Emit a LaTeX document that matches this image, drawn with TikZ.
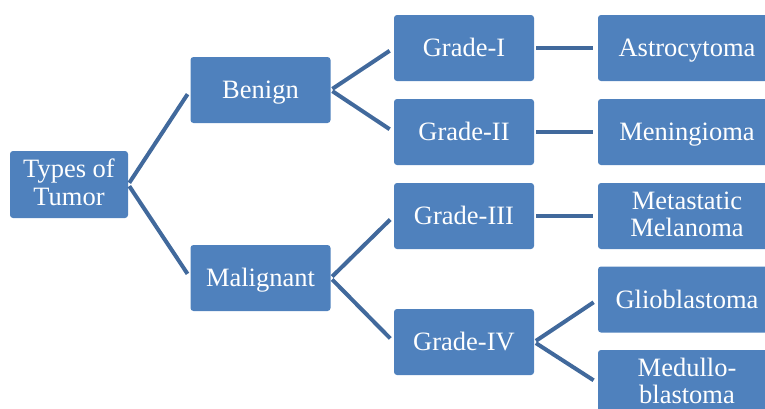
\documentclass[tikz,border=0pt]{standalone}
\usepackage{fontspec}
\setmainfont{Liberation Serif}
\definecolor{boxblue}{HTML}{4F81BD}
\definecolor{lineblue}{HTML}{41699C}
\begin{document}
\begin{tikzpicture}[x=1pt,y=-1pt,
  tbox/.style={draw=none,fill=boxblue,rounded corners=3pt,text=white,
    font=\fontsize{26.5}{27.5}\selectfont,align=center,inner sep=0pt,
    minimum width=140pt,minimum height=66pt,text height=20pt,text depth=2.4pt},
  twoline/.style={text height=47.5pt,text depth=6.5pt},
  wbox/.style={tbox,minimum width=178pt},
  conn/.style={draw=lineblue,line width=4pt,shorten <=2pt,shorten >=5pt}]
\useasboundingbox (0,0) rectangle (765,408);
\clip (0,0) rectangle (765,408);
\node[tbox,twoline,minimum width=118pt,minimum height=67pt] (tt) at (69,184.5) {Types of\\Tumor};
\node[tbox] (ben) at (260.5,90) {Benign};
\node[tbox] (mal) at (260.5,278) {Malignant};
\node[tbox] (g1) at (464,48) {Grade-I};
\node[tbox] (g2) at (464,132) {Grade-II};
\node[tbox] (g3) at (464,216) {Grade-III};
\node[tbox] (g4) at (464,342) {Grade-IV};
\node[wbox] (ast) at (687,48) {Astrocytoma};
\node[wbox] (men) at (687,132) {Meningioma};
\node[wbox,twoline] (met) at (687,216) {Metastatic\\Melanoma};
\node[wbox] (gli) at (687,299.5) {Glioblastoma};
\node[wbox,twoline] (med) at (687,383) {Medullo-\\blastoma};
\draw[conn] (tt.east) -- (ben.west);
\draw[conn] (tt.east) -- (mal.west);
\draw[conn] (ben.east) -- (g1.west);
\draw[conn] (ben.east) -- (g2.west);
\draw[conn] (mal.east) -- (g3.west);
\draw[conn] (mal.east) -- (g4.west);
\draw[conn] (g1.east) -- (ast.west);
\draw[conn] (g2.east) -- (men.west);
\draw[conn] (g3.east) -- (met.west);
\draw[conn] (g4.east) -- (gli.west);
\draw[conn] (g4.east) -- (med.west);
\end{tikzpicture}
\end{document}
